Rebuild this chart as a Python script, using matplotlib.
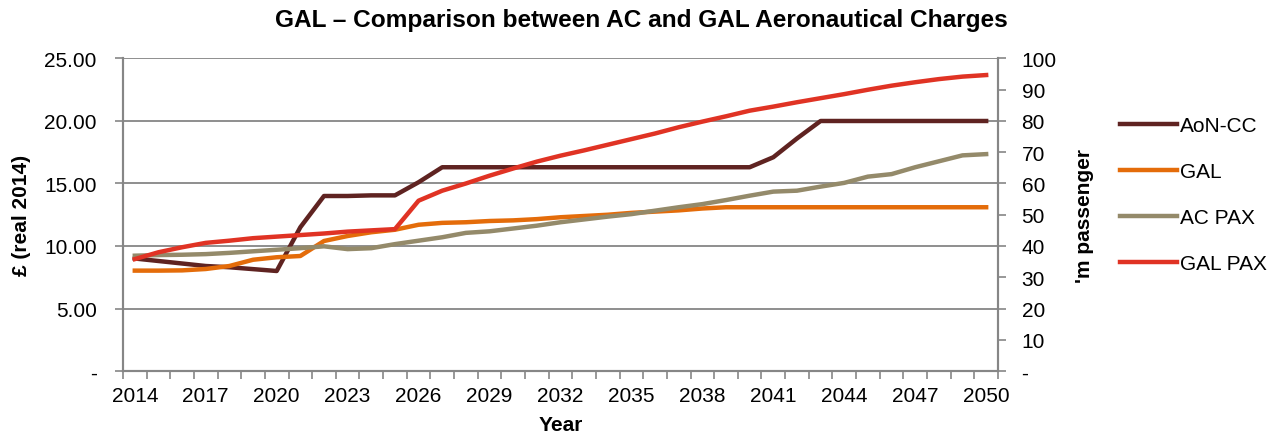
import matplotlib.pyplot as plt
import numpy as np
from matplotlib.ticker import FixedLocator, FuncFormatter

plt.rcParams['font.family'] = ['Liberation Sans', 'DejaVu Sans']

years = list(range(2014, 2051))

# charges, £ real 2014 (left axis)
aon_cc = [9.0, 8.8, 8.6, 8.4, 8.3, 8.15, 8.0, 11.5, 14.0, 14.0, 14.05, 14.05, 15.1,
          16.3, 16.3, 16.3, 16.3, 16.3, 16.3, 16.3, 16.3, 16.3, 16.3, 16.3, 16.3,
          16.3, 16.3, 17.1, 18.6, 20.0, 20.0, 20.0, 20.0, 20.0, 20.0, 20.0, 20.0]
gal = [8.03, 8.03, 8.05, 8.16, 8.4, 8.9, 9.1, 9.2, 10.4, 10.8, 11.1, 11.3, 11.7,
       11.85, 11.9, 12.0, 12.05, 12.15, 12.3, 12.4, 12.5, 12.65, 12.75, 12.85, 13.0,
       13.1, 13.1, 13.1, 13.1, 13.1, 13.1, 13.1, 13.1, 13.1, 13.1, 13.1, 13.1]

# passengers, millions (right axis)
ac_pax = [36.9, 37.1, 37.2, 37.4, 37.8, 38.3, 38.8, 39.3, 39.9, 39.0, 39.3, 40.6, 41.7,
          42.8, 44.2, 44.7, 45.6, 46.5, 47.6, 48.5, 49.4, 50.2, 51.3, 52.4, 53.4,
          54.7, 56.1, 57.4, 57.7, 59.0, 60.2, 62.2, 63.0, 65.2, 67.1, 69.0, 69.4]
gal_pax = [35.8, 38.0, 39.6, 41.0, 41.7, 42.5, 43.0, 43.5, 44.0, 44.6, 45.0, 45.4, 54.5,
           57.7, 60.0, 62.5, 64.8, 67.0, 68.9, 70.6, 72.4, 74.2, 76.0, 78.0, 79.8,
           81.5, 83.3, 84.6, 86.0, 87.3, 88.6, 90.0, 91.3, 92.4, 93.4, 94.2, 94.7]

c_aon = '#5F2321'
c_gal = '#E46C0A'
c_acpax = '#948A6A'
c_galpax = '#E03324'
axis_grey = '#868686'

x = np.arange(len(years))

fig = plt.figure(figsize=(12.77, 4.39), dpi=100)
ax = fig.add_axes([0.0963, 0.1526, 0.6852, 0.7119])
ax2 = ax.twinx()

l1, = ax.plot(x, aon_cc, color=c_aon, lw=3.2, label='AoN-CC', zorder=3)
l2, = ax.plot(x, gal, color=c_gal, lw=3.2, label='GAL', zorder=3)
l3, = ax2.plot(x, ac_pax, color=c_acpax, lw=3.2, label='AC PAX')
l4, = ax2.plot(x, gal_pax, color=c_galpax, lw=3.2, label='GAL PAX')

ax.set_xlim(-0.5, len(years) - 0.5)
ax.set_ylim(0, 25)
ax2.set_ylim(0, 100)

ax.set_yticks(np.arange(0, 26, 5))
ax.yaxis.set_major_formatter(FuncFormatter(lambda v, p: '-' if v == 0 else f'{v:.2f}'))
ax2.set_yticks(np.arange(0, 101, 10))
ax2.yaxis.set_major_formatter(FuncFormatter(lambda v, p: '-' if v == 0 else f'{v:.0f}'))

ax.set_xticks(x[::3])
ax.set_xticklabels([str(y) for y in years[::3]])
ax.xaxis.set_minor_locator(FixedLocator(np.arange(-0.5, len(years), 1)))
ax.tick_params(axis='x', which='major', length=0, pad=11, labelsize=15)
ax.tick_params(axis='x', which='minor', length=6, width=1.2, color=axis_grey)
ax.tick_params(axis='y', length=6, width=1.2, color=axis_grey, labelsize=15, pad=13)
ax2.tick_params(axis='y', length=6, width=1.2, color=axis_grey, labelsize=15, pad=11)

ax.grid(axis='y', color=axis_grey, lw=1.3)
ax.set_axisbelow(True)
for a in (ax, ax2):
    a.spines['top'].set_visible(False)
    for s in ('left', 'right', 'bottom'):
        a.spines[s].set_color(axis_grey)
        a.spines[s].set_linewidth(1.5)

ax.set_ylabel('£ (real 2014)', fontsize=15, fontweight='bold', labelpad=9)
ax2.set_ylabel("'m passenger", fontsize=15, fontweight='bold', rotation=90, labelpad=13)
ax.set_xlabel('Year', fontsize=15, fontweight='bold', labelpad=7)
fig.suptitle('GAL \u2013 Comparison between AC and GAL Aeronautical Charges',
             fontsize=17.6, fontweight='bold', x=0.502, y=0.98)

fig.legend(handles=[l1, l2, l3, l4], loc='upper left', bbox_to_anchor=(0.8705, 0.752),
           frameon=False, fontsize=15, handlelength=2.75, handletextpad=0.12,
           labelspacing=1.3, borderaxespad=0)

fig.savefig('out.png', dpi=100)
